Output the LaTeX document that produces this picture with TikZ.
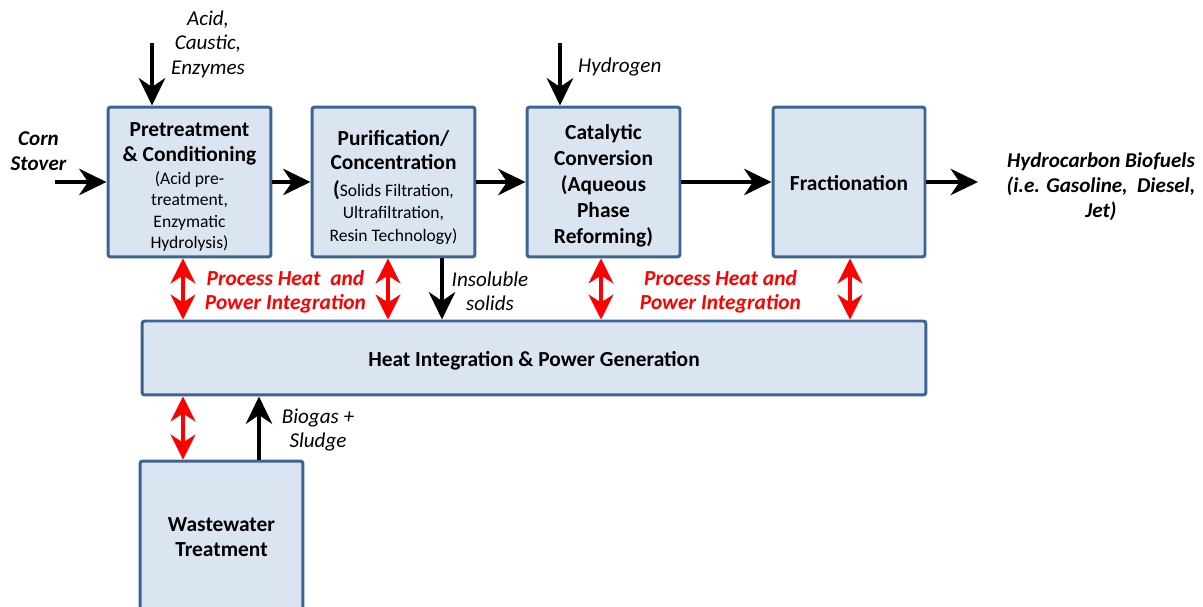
\documentclass[tikz,border=0pt]{standalone}
\usepackage{fontspec}
\setmainfont{Carlito}
\usetikzlibrary{arrows.meta}

\definecolor{boxfill}{HTML}{DBE5F1}
\definecolor{boxline}{HTML}{3B6496}
\definecolor{linkred}{HTML}{FF0000}

\newcommand{\subtxt}[1]{{\fontsize{10}{12}\selectfont\mdseries #1}}
\newcommand{\lift}[1]{\rule{0pt}{#1}}

\tikzset{
  unit/.style={draw=boxline, fill=boxfill, line width=1.7pt, rounded corners=1.5pt,
    align=center, inner sep=0pt, font=\fontsize{12.2}{14.2}\selectfont\bfseries},
  flow/.style={-{Stealth[length=5.5mm, width=5.3mm, inset=1.8mm]}, line width=2pt},
  heatlink/.style={{Stealth[length=5mm, width=5mm, inset=1.6mm]}-{Stealth[length=5mm, width=5mm, inset=1.6mm]},
    draw=linkred, line width=1.8pt},
  note/.style={align=center, font=\fontsize{12}{13.9}\selectfont\itshape},
  boldnote/.style={align=center, font=\fontsize{12}{14.2}\selectfont\bfseries\itshape},
  rednote/.style={boldnote, text=linkred, font=\fontsize{12.2}{13.6}\selectfont\bfseries\itshape},
}

\begin{document}
\begin{tikzpicture}[x=0.02cm, y=-0.02cm]
  \useasboundingbox (0,0) rectangle (1203,607);
  \clip (0,0) rectangle (1203,607);

  % process units
  \node[unit, minimum width=3.26cm, minimum height=3cm] (pre) at (189.5,182)
    {\lift{13.4pt}Pretreatment\\\& Conditioning\\[-1pt]\subtxt{(Acid pre-}\\[-2.1pt]\subtxt{treatment,}\\[-2.1pt]\subtxt{Enzymatic}\\[-2.1pt]\subtxt{Hydrolysis)}};
  \node[unit, minimum width=3.26cm, minimum height=3cm] (puri) at (393.5,182)
    {\lift{14.8pt}Purification/\\[-0.4pt]Concentration\\[1.2pt](\subtxt{Solids Filtration,}\\[-1.5pt]\subtxt{Ultrafiltration,}\\[-1pt]\subtxt{Resin Technology)}};
  \node[unit, minimum width=3.06cm, minimum height=3cm] (cat) at (603.5,182)
    {\lift{12.4pt}Catalytic\\[0.6pt]Conversion\\[0.6pt](Aqueous\\[0.6pt]Phase\\[0.6pt]Reforming)};
  \node[unit, minimum width=3.04cm, minimum height=3cm] (frac) at (849,182) {\lift{10pt}Fractionation};
  \node[unit, minimum width=15.68cm, minimum height=1.48cm] (heat) at (534,358)
    {\lift{11.2pt}Heat Integration \& Power Generation};
  \node[unit, minimum width=3.26cm, minimum height=2.98cm] (waste) at (221.5,535.5)
    {\lift{10pt}Wastewater\\Treatment};

  % feeds and products
  \coordinate (cornin) at (55,182);
  \coordinate (acidin) at (152,43);
  \coordinate (h2in) at (560,43);
  \coordinate (fuelout) at (978,182);
  \node[boldnote] (corn) at (38.5,151) {Corn\\Stover};
  \node[note] (acid) at (208,44) {Acid,\\Caustic,\\Enzymes};
  \node[note, anchor=west] (h2) at (572,67) {Hydrogen};
  \node[boldnote] (fuel) at (1101,187) {Hydrocarbon Biofuels\\(i.e. Gasoline,\ \ Diesel,\\Jet)};

  \draw[flow] (cornin) -- (pre.west);
  \draw[flow] (acidin) -- (pre.north -| acidin);
  \draw[flow] (h2in) -- (cat.north -| h2in);
  \draw[flow] (pre) -- (puri);
  \draw[flow] (puri) -- (cat);
  \draw[flow] (cat) -- (frac);
  \draw[flow] (frac) -- (fuelout);

  % heat and power links
  \foreach \u/\xx in {pre/183, puri/388, cat/601, frac/850} {
    \coordinate (tap) at (\xx,0);
    \draw[heatlink] (\u.south -| tap) -- (heat.north -| tap);
  }
  \coordinate (wtap) at (183,0);
  \draw[heatlink] (heat.south -| wtap) -- (waste.north -| wtap);
  \node[rednote] (link1) at (285.5,291.5) {Process Heat\ \ and\\Power Integration};
  \node[rednote] (link2) at (720.5,291.5) {Process Heat and\\Power Integration};

  % side streams
  \coordinate (solids) at (442,0);
  \coordinate (biogas) at (259,0);
  \draw[flow] (puri.south -| solids) -- (heat.north -| solids);
  \draw[flow] (waste.north -| biogas) -- (heat.south -| biogas);
  \node[note] (solidslbl) at (490,291.5) {Insoluble\\solids};
  \node[note] (biogaslbl) at (318,430) {Biogas +\\Sludge};
\end{tikzpicture}
\end{document}
